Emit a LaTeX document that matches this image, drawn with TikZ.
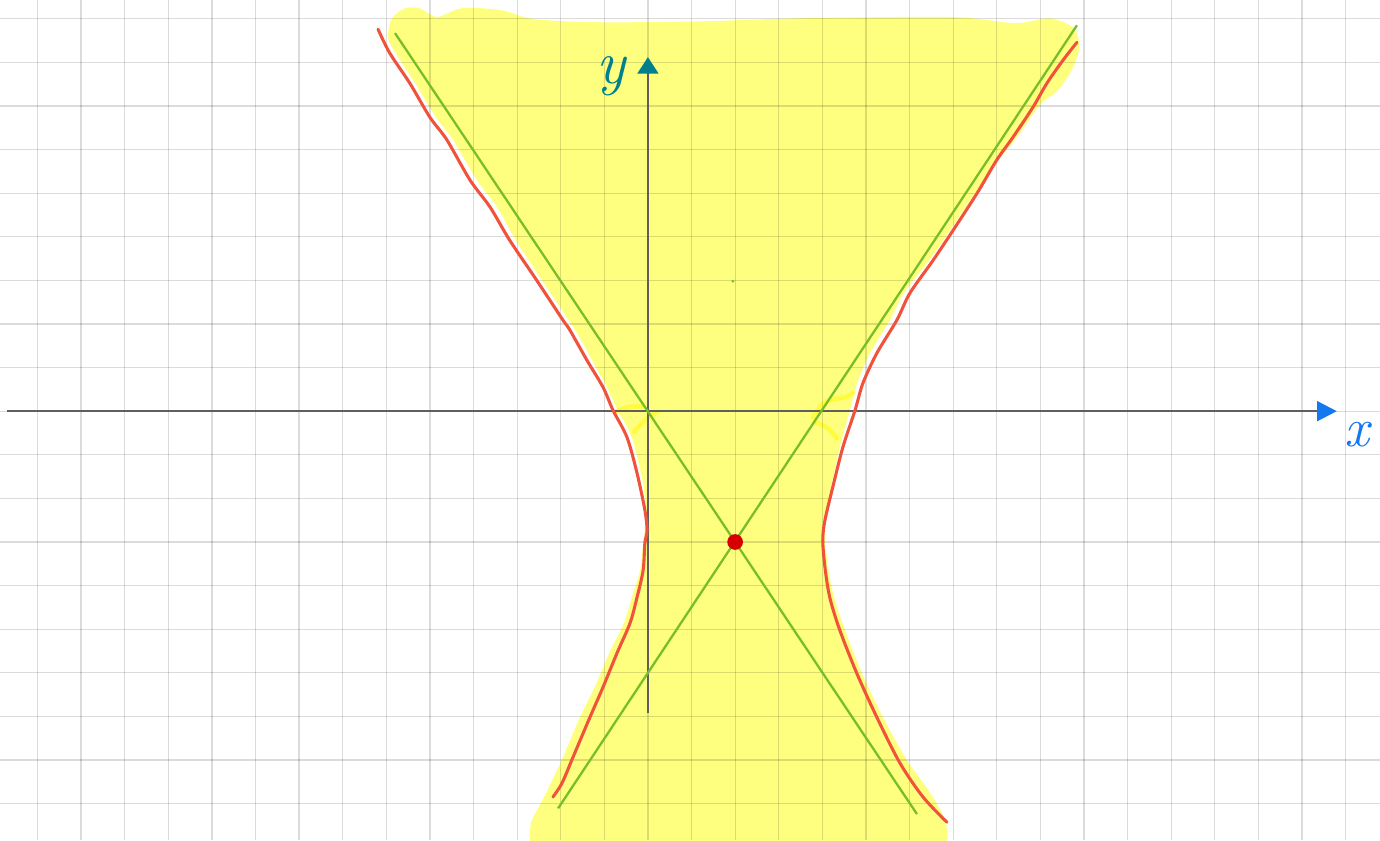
\documentclass[tikz,border=0pt]{standalone}
\usepackage{fontspec}
\usepackage{xcolor}
\usepackage{tikz}
\usetikzlibrary{arrows.meta}

\definecolor{hlyellow}{RGB}{255,255,0}
\definecolor{dabyellow}{RGB}{255,250,40}
\definecolor{axisgrey}{RGB}{95,95,95}
\definecolor{asymgreen}{RGB}{120,190,40}
\definecolor{curvered}{RGB}{240,82,60}
\definecolor{centrered}{RGB}{215,0,0}
\definecolor{ytip}{RGB}{0,128,140}
\definecolor{xtip}{RGB}{20,120,240}

\begin{document}
\begin{tikzpicture}[
    gridline/.style={black, opacity=0.14, line width=0.8pt},
    marker/.style={fill=hlyellow, fill opacity=0.5, draw=none},
    dab/.style={dabyellow, opacity=0.75, line width=3pt, line cap=round},
    axis/.style={axisgrey, line width=1.5pt},
    asym/.style={asymgreen, line width=1.5pt},
    branch/.style={curvered, line width=2pt, line cap=round, line join=round},
    axlabel/.style={inner sep=0pt},
]
\useasboundingbox (-14.86,-9.84) rectangle (16.79,9.43);

% =====================================================================
% Highlighter: region between the two branches
% =====================================================================
\fill[marker] plot[smooth, tension=0.5] coordinates {
    (-2.71,-9.95) (-2.68,-9.43) (-2.48,-9.04) (-2.25,-8.58) (-1.95,-7.94)
    (-1.56,-7.02) (-1.22,-6.33) (-0.89,-5.55) (-0.55,-4.86) (-0.37,-4.27)
    (-0.18,-3.65) (-0.11,-3.03) (-0.05,-2.50) (-0.09,-1.81) (-0.16,-1.42)
    (-0.37,-0.60) (-0.69,0.02) (-0.94,0.55) (-1.28,1.17) (-1.67,1.86)
    (-2.43,3.00) (-3.03,3.92) (-3.46,4.68) (-3.92,5.30) (-4.47,6.22)
    (-4.86,6.74) (-5.34,7.52) (-5.76,8.17) (-5.96,8.56) (-5.87,9.01)
    (-5.57,9.24) (-5.23,9.24) (-4.84,9.04) (-4.27,9.24) (-3.39,9.20)
    (-2.59,8.99) (-1.10,8.92) (1.19,8.94) (3.49,9.01) (6.93,9.04)
    (8.42,8.90) (9.22,9.01) (9.77,8.78) (9.89,8.33) (9.72,7.82)
    (9.40,7.36) (8.99,7.02) (8.46,6.28) (8.00,5.71) (7.50,5.00)
    (6.93,4.15) (6.42,3.42) (5.87,2.71) (5.55,2.09) (5.09,1.33)
    (4.79,0.62) (4.63,0.02) (4.40,-0.83) (4.20,-1.74) (4.06,-2.50)
    (4.06,-2.96) (4.13,-3.58) (4.27,-4.27) (4.52,-5.02) (4.91,-6.01)
    (5.39,-7.02) (5.94,-8.00) (6.51,-8.81) (6.83,-9.43) (6.86,-9.95)}
    -- cycle;

% highlighter dabs on the x-intercepts
\draw[dab] plot[smooth] coordinates {(-0.76,-0.02) (-0.46,0.09) (-0.14,0.11)};
\draw[dab] plot[smooth] coordinates {(0.21,-0.02) (-0.07,-0.21) (-0.32,-0.48)};
\draw[dab] plot[smooth] coordinates {(3.78,-0.14) (4.06,0.21) (4.52,0.32) (4.70,0.41)};
\draw[dab] plot[smooth] coordinates {(3.83,-0.25) (4.13,-0.39) (4.33,-0.62)};

% =====================================================================
% Squared paper
% =====================================================================
\foreach \x in {-14,...,16} {
    \draw[gridline] (\x,-9.84) -- (\x,9.43);
}
\foreach \y in {-9,...,9} {
    \draw[gridline] (-14.86,\y) -- (16.79,\y);
}

% =====================================================================
% Axes
% =====================================================================
\coordinate (xstart) at (-14.70,0);
\coordinate (xend) at (15.80,0);
\coordinate (ystart) at (0,-6.93);
\coordinate (yend) at (0,8.12);
\draw[axis, -{Triangle[length=0.45cm, width=0.45cm, color=xtip]}] (xstart) -- (xend);
\draw[axis, -{Triangle[length=0.38cm, width=0.48cm, color=ytip]}] (ystart) -- (yend);
\node[axlabel, xtip, font=\fontsize{36}{36}\selectfont\itshape] (xlabel) at (16.26,-0.53) {x};
\node[axlabel, ytip, font=\fontsize{40}{40}\selectfont\itshape] (ylabel) at (-0.85,7.68) {y};

% =====================================================================
% Asymptotes through the centre (2,-3)
% =====================================================================
\coordinate (centre) at (2,-3);
\coordinate (asymAtop) at (-5.80,8.67);
\coordinate (asymAbot) at (6.17,-9.24);
\coordinate (asymBbot) at (-2.06,-9.11);
\coordinate (asymBtop) at (9.84,8.85);
\draw[asym] (asymAtop) -- (asymAbot);
\draw[asym] (asymBbot) -- (asymBtop);
\fill[asymgreen] (1.95,2.98) circle (0.035);

% =====================================================================
% Hyperbola, drawn by hand: left and right branch
% =====================================================================
\draw[branch] plot[smooth, tension=0.5] coordinates {
    (-6.19,8.76) (-5.92,8.21) (-5.46,7.52) (-5.00,6.74) (-4.61,6.22)
    (-4.08,5.30) (-3.62,4.68) (-3.17,3.92) (-2.55,3.00) (-1.95,2.09)
    (-1.79,1.86) (-1.40,1.17) (-1.03,0.55) (-0.80,0.02) (-0.48,-0.60)
    (-0.25,-1.42) (-0.07,-2.27) (-0.02,-2.73) (-0.07,-3.03) (-0.11,-3.65)
    (-0.25,-4.27) (-0.41,-4.86) (-0.71,-5.55) (-1.03,-6.33) (-1.33,-7.02)
    (-1.72,-7.94) (-1.97,-8.53) (-2.18,-8.85)};
\draw[branch] plot[smooth, tension=0.5] coordinates {
    (9.84,8.46) (9.52,8.05) (9.15,7.52) (8.83,6.97) (8.37,6.28)
    (8.00,5.76) (7.55,5.00) (7.00,4.15) (6.54,3.46) (6.01,2.71)
    (5.71,2.09) (5.25,1.33) (4.93,0.64) (4.75,0.02) (4.47,-0.83)
    (4.24,-1.74) (4.06,-2.50) (4.01,-2.96) (4.06,-3.58) (4.17,-4.27)
    (4.40,-5.02) (4.79,-6.01) (5.25,-7.02) (5.78,-8.07) (6.31,-8.85)
    (6.86,-9.43)};

% centre point
\fill[centrered] (centre) circle (0.18);

\end{tikzpicture}
\end{document}
